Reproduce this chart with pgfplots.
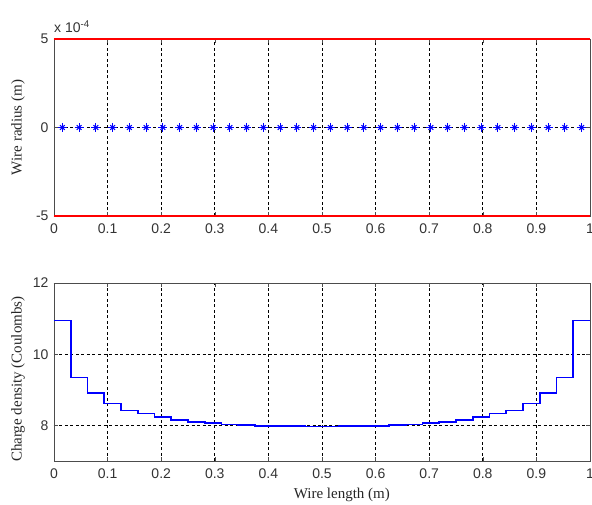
\documentclass[border=0pt]{standalone}
\usepackage{fontspec}
\setmainfont{Liberation Serif}
\newfontfamily\arial{Liberation Sans}
\usepackage{pgfplots}
\pgfplotsset{compat=1.18}
\definecolor{mblue}{RGB}{0,0,255}
\begin{document}
\begin{tikzpicture}
\useasboundingbox (0pt,0pt) rectangle (592pt,504pt);
\pgfplotsset{
  myaxis/.style={
    scale only axis,
    width=536pt,
    xmin=0, xmax=1,
    xtick={0,0.1,...,1},
    xticklabels={0,0.1,0.2,0.3,0.4,0.5,0.6,0.7,0.8,0.9,1},
    tick label style={font=\arial\fontsize{14}{16}\selectfont, text=black!80},
    label style={font=\fontsize{15}{17}\selectfont, text=black!85},
    axis line style={black!70, line width=0.8pt},
    tick style={black!70, line width=0.6pt},
    tick align=inside,
    major tick length=4pt,
    grid=major,
    major grid style={black, dash pattern=on 3pt off 2.5pt, line width=0.7pt},
    xticklabel style={yshift=-4pt},
    yticklabel style={xshift=-2pt},
  }
}
% top axis
\begin{axis}[myaxis,
  at={(54pt,288pt)}, anchor=south west,
  height=177pt,
  ymin=-5, ymax=5,
  ytick={-5,0,5},
  yticklabels={-5,0,5},
  clip=false,
  x axis line style={red, line width=1.1pt},
  ylabel={Wire radius (m)},
  ylabel style={at={(axis description cs:-0.067,0.5)}, anchor=center},
]
\addplot[red, line width=1.1pt] coordinates {(0,5) (1,5)};
\addplot[red, line width=1.1pt] coordinates {(0,-5) (1,-5)};
\addplot[mblue, only marks, mark=+, mark size=4.5pt, mark options={line width=1pt}] coordinates {
(0.015625,0) (0.046875,0) (0.078125,0) (0.109375,0) (0.140625,0) (0.171875,0) (0.203125,0) (0.234375,0)
(0.265625,0) (0.296875,0) (0.328125,0) (0.359375,0) (0.390625,0) (0.421875,0) (0.453125,0) (0.484375,0)
(0.515625,0) (0.546875,0) (0.578125,0) (0.609375,0) (0.640625,0) (0.671875,0) (0.703125,0) (0.734375,0)
(0.765625,0) (0.796875,0) (0.828125,0) (0.859375,0) (0.890625,0) (0.921875,0) (0.953125,0) (0.984375,0)};
\addplot[mblue, only marks, mark=x, mark size=3.3pt, mark options={line width=1pt}] coordinates {
(0.015625,0) (0.046875,0) (0.078125,0) (0.109375,0) (0.140625,0) (0.171875,0) (0.203125,0) (0.234375,0)
(0.265625,0) (0.296875,0) (0.328125,0) (0.359375,0) (0.390625,0) (0.421875,0) (0.453125,0) (0.484375,0)
(0.515625,0) (0.546875,0) (0.578125,0) (0.609375,0) (0.640625,0) (0.671875,0) (0.703125,0) (0.734375,0)
(0.765625,0) (0.796875,0) (0.828125,0) (0.859375,0) (0.890625,0) (0.921875,0) (0.953125,0) (0.984375,0)};
\node[anchor=south west, inner sep=0pt, font=\arial\fontsize{14}{16}\selectfont, text=black!80] at (rel axis cs:0,1) [yshift=6pt] {x 10\textsuperscript{-4}};
\end{axis}
% bottom axis
\begin{axis}[myaxis,
  at={(54pt,43pt)}, anchor=south west,
  height=178pt,
  ymin=7, ymax=12,
  ytick={8,10,12},
  yticklabels={8,10,12},
  ylabel={Charge density (Coulombs)},
  ylabel style={at={(axis description cs:-0.067,0.46)}, anchor=center},
  xlabel={Wire length (m)},
  xlabel style={at={(axis description cs:0.537,-0.19)}, anchor=center},
]
\addplot[draw=mblue, const plot, line width=1.6pt] coordinates {
(0,10.95) (0.03125,9.35) (0.0625,8.91) (0.09375,8.61) (0.125,8.42) (0.15625,8.33) (0.1875,8.23) (0.21875,8.16)
(0.25,8.10) (0.28125,8.065) (0.3125,8.03) (0.34375,8.01) (0.375,7.99) (0.40625,7.98) (0.4375,7.975) (0.46875,7.97)
(0.5,7.97) (0.53125,7.975) (0.5625,7.98) (0.59375,7.99) (0.625,8.01) (0.65625,8.03) (0.6875,8.065) (0.71875,8.10)
(0.75,8.16) (0.78125,8.23) (0.8125,8.33) (0.84375,8.42) (0.875,8.61) (0.90625,8.91) (0.9375,9.35) (0.96875,10.95)
(1,10.95)};
\node[anchor=south west, inner sep=0pt, font=\arial\fontsize{14}{16}\selectfont, text=black!80] at (rel axis cs:0,1) [yshift=6pt] {x 10\textsuperscript{-12}};
\end{axis}
\end{tikzpicture}
\end{document}
